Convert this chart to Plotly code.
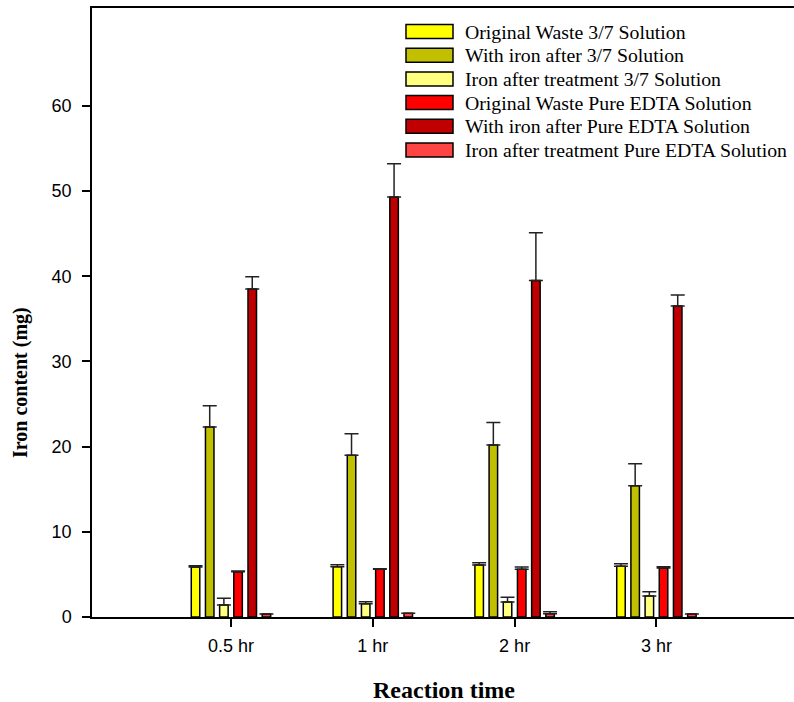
import plotly.graph_objects as go

# Reaction times (x categories)
times = ["0.5 hr", "1 hr", "2 hr", "3 hr"]

# Iron content (mg) per series, with upper error
orig_37 = [5.87, 5.90, 6.10, 5.95]
orig_37_err = [0.15, 0.24, 0.28, 0.30]

iron_37 = [22.3, 19.0, 20.2, 15.4]
iron_37_err = [2.5, 2.5, 2.65, 2.6]

after_37 = [1.41, 1.56, 1.76, 2.47]
after_37_err = [0.80, 0.24, 0.55, 0.50]

orig_edta = [5.32, 5.60, 5.60, 5.75]
orig_edta_err = [0.08, 0.06, 0.27, 0.15]

iron_edta = [38.5, 49.3, 39.5, 36.5]
iron_edta_err = [1.45, 3.9, 5.6, 1.3]

after_edta = [0.35, 0.43, 0.39, 0.35]
after_edta_err = [0.0, 0.0, 0.23, 0.0]

series_names = [
    "Original Waste 3/7 Solution",
    "With iron after 3/7 Solution",
    "Iron after treatment 3/7 Solution",
    "Original Waste Pure EDTA Solution",
    "With iron after Pure EDTA Solution",
    "Iron after treatment Pure EDTA Solution",
]
series_values = [orig_37, iron_37, after_37, orig_edta, iron_edta, after_edta]
series_errors = [orig_37_err, iron_37_err, after_37_err,
                 orig_edta_err, iron_edta_err, after_edta_err]
series_colors = ["#FFFF00", "#C0C000", "#FFFF80", "#FF0000", "#C00000", "#FF4444"]

fig = go.Figure()
for name, vals, errs, col in zip(series_names, series_values, series_errors, series_colors):
    fig.add_trace(go.Bar(
        x=times, y=vals, name=name,
        marker=dict(color=col, line=dict(color="black", width=1.5)),
        error_y=dict(type="data", array=errs, arrayminus=[0] * len(errs),
                     symmetric=False, color="#222222", thickness=1.5, width=7),
        showlegend=False,
    ))

# Pixel frame of the plotting area, used to place the legend and titles
plot_left, plot_w, plot_bottom, plot_h = 92, 702, 617, 609


def px_x(px):
    return (px - plot_left) / plot_w


def px_y(py):
    return (plot_bottom - py) / plot_h


# Legend drawn as swatches and labels in the upper right
row0, row_step = 31.5, 23.7
for i, (name, col) in enumerate(zip(series_names, series_colors)):
    cy = row0 + i * row_step
    fig.add_shape(type="rect", xref="paper", yref="paper",
                  x0=px_x(406), x1=px_x(453),
                  y0=px_y(cy + 7), y1=px_y(cy - 7), fillcolor=col,
                  line=dict(color="black", width=1.5))
    fig.add_annotation(xref="paper", yref="paper",
                       x=px_x(463), y=px_y(cy),
                       text=name, showarrow=False, xanchor="left", yanchor="middle",
                       font=dict(family="Liberation Serif", size=19.8, color="black"))

# Axis titles
fig.add_annotation(xref="paper", yref="paper", x=px_x(444), y=px_y(690),
                   text="<b>Reaction time</b>", showarrow=False,
                   xanchor="center", yanchor="middle",
                   font=dict(family="Liberation Serif", size=24, color="black"))
fig.add_annotation(xref="paper", yref="paper", x=px_x(20), y=px_y(383),
                   text="<b>Iron content (mg)</b>", showarrow=False, textangle=-90,
                   xanchor="center", yanchor="middle",
                   font=dict(family="Liberation Serif", size=20, color="black"))

fig.update_layout(
    width=794, height=702,
    margin=dict(l=92, r=0, t=8, b=85, autoexpand=False),
    paper_bgcolor="white", plot_bgcolor="white",
    barmode="group", bargap=0.4, bargroupgap=0.4,
    font=dict(family="Liberation Sans", color="black"),
)
fig.update_xaxes(
    type="category", range=[-0.98, 3.97],
    showline=True, linecolor="black", linewidth=1.5, mirror=True,
    ticks="outside", ticklen=8, tickwidth=1.5, tickcolor="black",
    tickfont=dict(family="Liberation Sans", size=18), ticklabelstandoff=4,
    showgrid=False, zeroline=False,
)
fig.update_yaxes(
    range=[0, 71.5], tickvals=[0, 10, 20, 30, 40, 50, 60],
    showline=True, linecolor="black", linewidth=1.5, mirror=False,
    ticks="outside", ticklen=8, tickwidth=1.5, tickcolor="black",
    tickfont=dict(family="Liberation Sans", size=18), ticklabelstandoff=7,
    showgrid=False, zeroline=False,
)

fig.write_html("out.html")
